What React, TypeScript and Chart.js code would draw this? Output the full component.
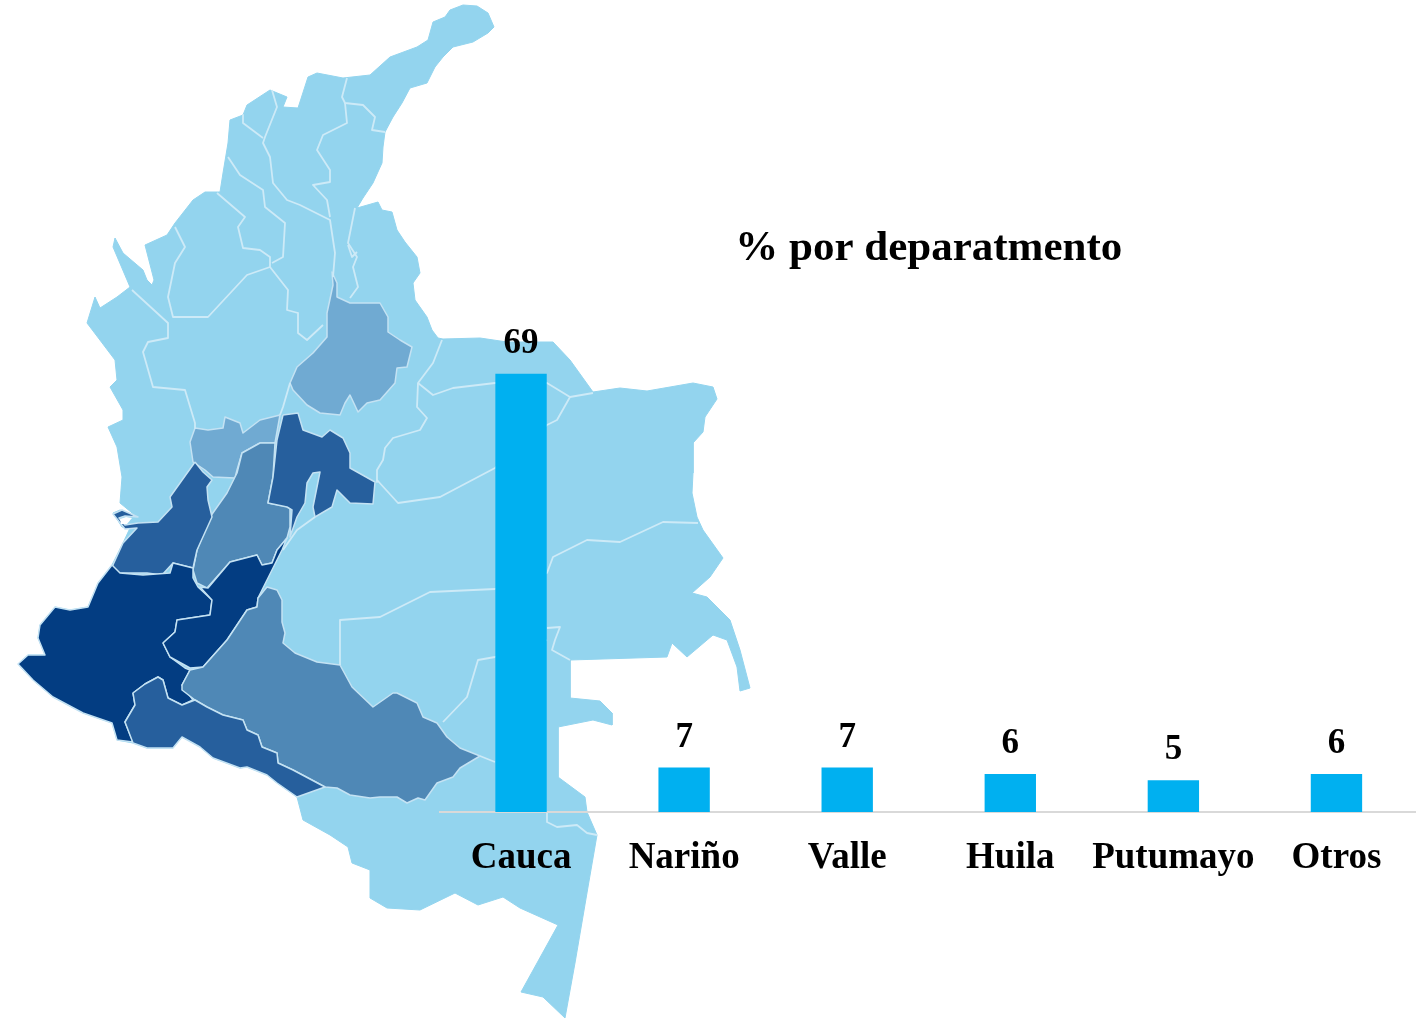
import React, { useEffect, useRef } from "react";
import { Chart, registerables } from "chart.js";

Chart.register(...registerables);

// ----- bar chart data -----
const categories = ["Cauca", "Nariño", "Valle", "Huila", "Putumayo", "Otros"];
const percentByDepartment = [69, 7, 7, 6, 5, 6];
const chartTitle = "% por deparatmento";

// ----- map outlines (x, y in picture units) -----
type P = [number, number];
const countryOutline: P[] = [
  [463,5],[477,6],[488,13],[494,27],[488,33],[473,42],[453,47],[443,57],[435,67],[427,83],[410,88],[402,103],[393,117],[385,132],[383,147],[382,163],[373,183],[363,198],[357,208],[378,202],[382,210],[392,212],[397,230],[405,242],[417,257],[420,273],[413,283],[415,300],[427,317],[432,330],[438,338],
  [443,339],[480,338],[507,342],[553,342],[570,360],[593,392],[620,388],[647,391],[693,383],[713,387],[717,399],[705,417],[703,432],[693,443],[693,473],[692,493],[697,517],[703,530],[723,558],[710,577],[692,593],[707,597],[730,620],[740,650],[750,688],[740,691],[737,667],[727,640],[713,635],[687,657],[672,643],[667,657],[570,660],[570,698],
  [600,701],[612,713],[612,725],[593,720],[558,727],[558,777],[585,797],[587,812],[597,835],[588,887],[575,963],[565,1018],[543,997],[521,992],[558,925],[520,908],[503,897],[478,905],[455,893],[420,910],[387,908],[370,898],[370,870],[352,863],[348,847],[330,835],[303,820],[297,797],
  [277,783],[267,775],[247,767],[240,768],[213,758],[200,747],[182,737],[173,748],[147,748],[133,743],[117,740],[112,723],[83,713],[53,697],[33,680],[18,664],[28,655],[45,655],[38,638],[40,625],[55,607],[70,610],[88,607],[98,583],[112,565],
  [123,543],[130,528],[122,527],[113,513],[120,510],[137,517],[120,503],[122,477],[117,447],[108,427],[123,420],[123,410],[110,387],[117,380],[115,360],[87,323],[95,297],[100,308],[117,297],[130,287],
  [113,247],[115,238],[123,253],[143,270],[147,280],[152,285],[154,280],[145,245],[167,235],[175,223],[193,200],[205,192],[220,192],[223,173],[228,143],[230,120],[243,115],[247,105],[270,90],[287,97],[283,107],[298,108],[308,77],[317,73],[343,78],[370,75],[390,57],[417,47],[428,40],[433,22],[445,17],[450,10],[463,5],
];

const boyaca: P[] = [[337,297],[350,303],[367,303],[380,303],[388,317],[388,332],[400,340],[412,347],[407,367],[397,368],[395,383],[380,400],[367,403],[358,412],[350,395],[345,403],[340,415],[320,413],[307,405],[293,390],[290,383],[297,367],[313,353],[327,337],[327,313],[333,285],[332,272],[337,283],[337,297]];
const caldas: P[] = [[195,428],[208,430],[223,428],[225,417],[240,423],[243,433],[260,420],[280,415],[275,443],[260,443],[242,453],[237,470],[235,478],[213,477],[205,470],[193,462],[190,442],[195,428]];
const tolima: P[] = [[260,443],[275,443],[273,477],[268,503],[290,507],[290,527],[287,538],[277,550],[272,563],[262,565],[257,555],[230,562],[207,588],[197,583],[193,570],[197,550],[210,517],[227,493],[237,473],[242,453],[260,443]];
const cundinamarca: P[] = [[283,415],[298,413],[303,430],[322,437],[330,430],[343,438],[350,453],[350,468],[375,482],[373,504],[350,503],[337,490],[332,507],[315,517],[313,507],[320,472],[313,473],[307,483],[305,503],[297,517],[290,537],[292,510],[287,507],[268,503],[273,477],[277,440],[283,415]];
const valle: P[] = [[195,462],[203,472],[212,480],[207,487],[208,500],[212,517],[197,550],[193,568],[173,563],[162,575],[147,573],[133,573],[117,573],[112,567],[123,543],[137,528],[125,529],[113,514],[122,510],[138,517],[125,516],[119,518],[125,525],[138,523],[158,522],[172,507],[170,497],[180,483],[195,462]];
const cauca: P[] = [[112,565],[120,573],[143,575],[170,573],[173,563],[193,568],[193,578],[198,587],[212,600],[210,615],[177,620],[175,632],[163,643],[170,657],[185,668],[190,670],[182,685],[193,700],[182,705],[168,698],[163,680],[158,677],[145,684],[133,693],[135,705],[125,722],[133,742],[117,740],[112,723],[83,713],[53,697],[33,680],[18,664],[28,655],[45,655],[38,638],[40,625],[55,607],[70,610],[88,607],[98,583],[112,565]];
const huila: P[] = [[163,643],[175,632],[177,620],[210,615],[212,600],[200,587],[208,588],[230,562],[257,555],[262,565],[272,563],[277,550],[287,538],[282,550],[267,580],[258,598],[257,607],[247,610],[227,640],[203,667],[190,668],[170,657],[163,643]];
const caqueta: P[] = [[190,670],[203,667],[227,640],[247,610],[257,607],[258,598],[267,587],[277,590],[282,600],[282,622],[285,633],[283,643],[295,653],[317,662],[340,665],[352,687],[373,707],[393,693],[397,693],[417,703],[423,717],[437,723],[447,737],[460,748],[480,756],[460,768],[453,777],[437,783],[425,800],[418,798],[407,803],[397,797],[380,797],[370,798],[350,795],[337,788],[325,787],[293,770],[278,763],[277,753],[262,747],[258,735],[247,730],[243,720],[223,715],[207,707],[195,700],[182,690],[182,685],[190,670]];
const putumayo: P[] = [[133,693],[145,684],[158,677],[163,680],[168,698],[182,705],[195,700],[207,707],[223,715],[243,720],[247,730],[258,735],[262,747],[277,753],[278,763],[293,770],[325,787],[297,797],[277,783],[267,775],[247,767],[240,768],[213,758],[200,747],[182,737],[173,748],[147,748],[133,743],[125,722],[135,705],[133,693]];
const gulfNotch: P[] = [[120,519],[126,517],[132,518],[127,524],[121,524],[120,519]];

const borderLines: P[][] = [
  [[347,78],[342,97],[345,103],[363,105],[375,117],[372,130],[385,132]],
  [[345,103],[347,123],[323,135],[317,150],[330,170],[330,182],[313,185],[327,200],[330,217]],
  [[272,90],[277,107],[265,137],[263,143],[270,157],[273,183],[287,200],[300,205],[330,220],[335,253],[333,277]],
  [[243,115],[243,123],[263,138]],
  [[228,157],[240,175],[263,190],[265,207],[285,223],[283,257],[272,263]],
  [[217,193],[245,217],[238,227],[243,248],[260,250],[270,257],[270,267],[247,275],[208,317],[173,317],[168,297],[175,263],[185,247],[175,227]],
  [[270,267],[288,290],[287,310],[298,313],[298,333],[307,340],[323,325]],
  [[355,208],[348,243],[357,257],[353,267],[358,287],[350,298]],
  [[348,245],[352,257],[357,252]],
  [[132,290],[168,323],[168,338],[148,342],[143,352],[153,387],[185,390],[195,423],[195,428]],
  [[290,383],[283,407],[280,415]],
  [[442,340],[433,363],[418,383],[417,407],[427,418],[420,430],[393,438],[385,448],[383,460],[377,470],[377,482]],
  [[418,383],[433,395],[453,388],[495,383],[547,383],[570,397],[557,420],[547,425]],
  [[570,397],[593,393]],
  [[377,480],[398,503],[440,497],[495,468],[547,425]],
  [[495,589],[547,573],[553,557],[587,540],[620,542],[663,522],[698,523]],
  [[340,665],[340,620],[380,617],[430,592],[495,589]],
  [[495,657],[478,660],[467,697],[443,722]],
  [[547,628],[560,627],[555,640],[552,650],[570,660]],
  [[495,657],[547,640]],
  [[480,756],[495,762]],
  [[547,813],[547,822],[557,827],[577,825],[587,833],[597,835]],
  [[315,517],[297,530],[283,550]],
];

const LIGHT = "#93d4ee";
const MID1 = "#70aad2";
const MID2 = "#4f88b6";
const DARK1 = "#265f9d";
const DARK2 = "#033d82";
const EDGE = "#c4e2f3";
const SERIF = '"Liberation Serif", serif';

const toXY = (pts: P[]) => pts.map(([x, y]) => ({ x, y }));

export default function App() {
  const mapRef = useRef<HTMLCanvasElement>(null);
  const barRef = useRef<HTMLCanvasElement>(null);

  useEffect(() => {
    document.body.style.margin = "0";

    const regions: [P[], string, string, number][] = [
      [countryOutline, LIGHT, LIGHT, 1],
      [boyaca, MID1, EDGE, 1.5],
      [caldas, MID1, EDGE, 1.5],
      [tolima, MID2, EDGE, 1.5],
      [cundinamarca, DARK1, EDGE, 1.5],
      [valle, DARK1, EDGE, 1.5],
      [gulfNotch, "#ffffff", "#ffffff", 0],
      [cauca, DARK2, EDGE, 1.5],
      [huila, DARK2, EDGE, 1.5],
      [caqueta, MID2, EDGE, 1.5],
      [putumayo, DARK1, EDGE, 1.5],
    ];
    const total = regions.length + borderLines.length;
    const lineSets = borderLines.map((pts, i) => ({
      data: toXY(pts),
      borderColor: "#cdeaf7",
      borderWidth: 1.8,
      borderJoinStyle: "round",
      pointRadius: 0,
      fill: false,
      tension: 0,
      order: borderLines.length - i,
    }));
    const regionSets = regions.map(([pts, color, edge, w], i) => ({
      data: toXY(pts),
      backgroundColor: color,
      borderColor: edge,
      borderWidth: w,
      borderJoinStyle: "round",
      pointRadius: 0,
      fill: "shape",
      tension: 0,
      order: total + regions.length - i,
    }));

    const mapChart = new Chart(mapRef.current!, {
      type: "line",
      data: { datasets: [...lineSets, ...regionSets] as any },
      options: {
        responsive: false,
        animation: false,
        layout: { padding: 0 },
        plugins: { legend: { display: false }, title: { display: false }, tooltip: { enabled: false } },
        scales: {
          x: { type: "linear", display: false, min: 0, max: 1416 },
          y: { type: "linear", display: false, min: 0, max: 1019, reverse: true },
        },
      },
    });

    const valueLabels = {
      id: "valueLabels",
      afterDatasetsDraw(chart: any) {
        const { ctx } = chart;
        const meta = chart.getDatasetMeta(0);
        ctx.save();
        ctx.font = `bold 35px ${SERIF}`;
        ctx.fillStyle = "#000";
        ctx.textAlign = "center";
        ctx.textBaseline = "middle";
        meta.data.forEach((bar: any, i: number) => {
          ctx.fillText(String(percentByDepartment[i]), bar.x, bar.y - 30);
        });
        ctx.restore();
      },
    };

    const barChart = new Chart(barRef.current!, {
      type: "bar",
      data: {
        labels: categories,
        datasets: [
          {
            data: percentByDepartment,
            backgroundColor: "#00b0f0",
            barPercentage: 0.315,
            categoryPercentage: 1,
          },
        ],
      },
      options: {
        responsive: false,
        animation: false,
        layout: { padding: { left: 439.5 } },
        plugins: {
          legend: { display: false },
          tooltip: { enabled: false },
          title: {
            display: true,
            text: chartTitle,
            fullSize: false,
            color: "#000",
            font: { family: SERIF, size: 43, weight: "bold", lineHeight: 1.2 },
            padding: { top: 223, bottom: 0 },
          },
        },
        scales: {
          x: {
            grid: { display: false },
            border: { display: true, color: "#d9d9d9", width: 2 },
            ticks: {
              color: "#000",
              maxRotation: 0,
              autoSkip: false,
              padding: 16,
              font: { family: SERIF, size: 37, weight: "bold" },
            },
            afterFit(scale: any) {
              scale.height = 207;
            },
          },
          y: { display: false, min: 0, max: 84.6 },
        },
      },
      plugins: [valueLabels],
    });

    return () => {
      mapChart.destroy();
      barChart.destroy();
    };
  }, []);

  const layer: React.CSSProperties = { position: "absolute", left: 0, top: 0 };
  return (
    <div style={{ position: "absolute", left: 0, top: 0, width: 1416, height: 1019, overflow: "hidden", background: "#fff" }}>
      <canvas ref={mapRef} width={1416} height={1019} style={layer} />
      <canvas ref={barRef} width={1418} height={1019} style={layer} />
    </div>
  );
}
